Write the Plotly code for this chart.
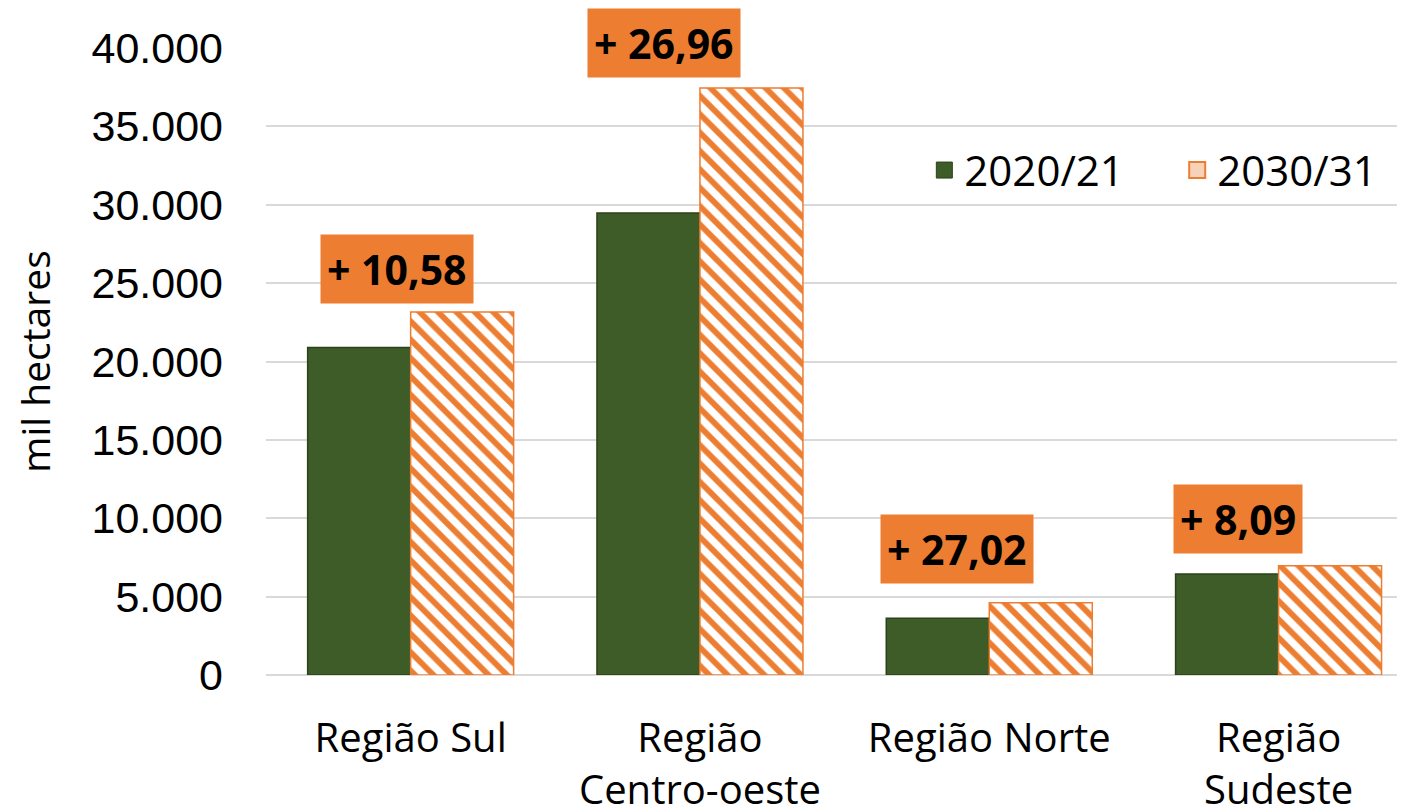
import plotly.graph_objects as go

categories = ["Região Sul", "Região<br>Centro-oeste", "Região Norte", "Região<br>Sudeste"]
series_names = ["2020/21", "2030/31"]
series_2020 = [20900, 29480, 3620, 6440]
series_2030 = [23150, 37450, 4610, 6965]
growth_labels = ["+ 10,58", "+ 26,96", "+ 27,02", "+ 8,09"]
label_y = [25890, 39990, 8040, 9980]
label_yshift = [0, 5, 0, 0]
label_dx = [-0.047, -0.124, -0.111, -0.14]
y_ticks = [0, 5000, 10000, 15000, 20000, 25000, 30000, 35000, 40000]
y_ticktext = ["0", "5.000", "10.000", "15.000", "20.000", "25.000", "30.000", "35.000", "40.000"]

GREEN = "#3E5C27"
ORANGE = "#ED7D31"
FONT = "Open Sans, Lato, sans-serif"

x_idx = list(range(len(categories)))

fig = go.Figure()
fig.add_trace(go.Bar(
    x=x_idx, y=series_2020, name=series_names[0], showlegend=False, legendgroup="a",
    marker=dict(color=GREEN, line=dict(color="#2B4219", width=1.5)),
))
fig.add_trace(go.Bar(
    x=x_idx, y=series_2030, name=series_names[1], showlegend=False, legendgroup="b",
    marker=dict(color="white", line=dict(color=ORANGE, width=1.5),
                pattern=dict(shape="\\", fgcolor=ORANGE, bgcolor="white",
                             size=13, solidity=0.45, fgopacity=1)),
))
# legend entries (no data points)
fig.add_trace(go.Scatter(
    x=[None], y=[None], mode="markers", name=series_names[0], legendgroup="a",
    marker=dict(symbol="square", size=30, color=GREEN, line=dict(color="#2B4219", width=1)),
    legend="legend",
))
fig.add_trace(go.Scatter(
    x=[None], y=[None], mode="markers", name=series_names[1], legendgroup="b",
    marker=dict(symbol="square", size=30, color="#F6D2B8", line=dict(color=ORANGE, width=2)),
    legend="legend2",
))

for i, (t, yy, dx, ys) in enumerate(zip(growth_labels, label_y, label_dx, label_yshift)):
    fig.add_annotation(
        x=i + dx, y=yy, xref="x", yref="y", text="<b>" + t + "</b>",
        showarrow=False, bgcolor=ORANGE, borderpad=6, yshift=ys,
        font=dict(family=FONT, size=41, color="black"),
    )

legend_style = dict(orientation="h", yanchor="middle", xanchor="left", y=0.805,
                    font=dict(family=FONT, size=42, color="black"),
                    bgcolor="rgba(0,0,0,0)", borderwidth=0)

fig.update_layout(
    width=1397, height=804,
    margin=dict(l=258, r=0, t=40, b=137),
    paper_bgcolor="white", plot_bgcolor="white",
    barmode="group", bargap=0.288, bargroupgap=0,
    showlegend=True,
    legend=dict(legend_style, x=0.578),
    legend2=dict(legend_style, x=0.80),
    xaxis=dict(
        tickmode="array", tickvals=x_idx, ticktext=categories,
        range=[-0.5, 3.437], showgrid=False, showline=False, zeroline=False,
        tickfont=dict(family=FONT, size=40, color="black"),
        ticks="", ticklabelstandoff=36, automargin=False,
    ),
    yaxis=dict(
        range=[0, 40000], tickmode="array", tickvals=y_ticks, ticktext=y_ticktext,
        showgrid=True, gridcolor="#D9D9D9", gridwidth=2,
        zeroline=True, zerolinecolor="#D9D9D9", zerolinewidth=2,
        showline=False, ticks="", automargin=False,
        tickfont=dict(family="Liberation Sans, Arial, sans-serif", size=43, color="black"),
        ticklabelstandoff=42,
        title=dict(text="mil hectares", standoff=40,
                   font=dict(family=FONT, size=39, color="black")),
    ),
)

fig.write_html("out.html")
